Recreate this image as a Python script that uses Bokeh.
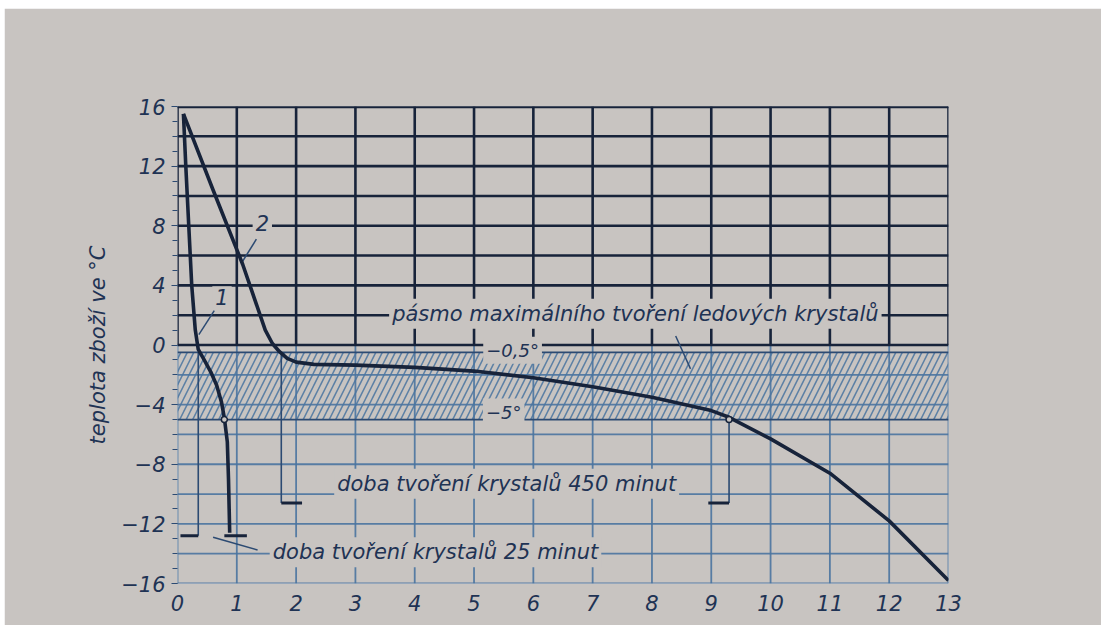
from bokeh.plotting import figure
from bokeh.models import Range1d, FixedTicker, Label
from bokeh.embed import file_html
from bokeh.resources import INLINE

# ---------------- data ----------------
# curve 1: fast freezing (hours, deg C)
c1_x = [0.10, 0.14, 0.19, 0.24, 0.30, 0.35, 0.45, 0.56, 0.66, 0.74, 0.79, 0.84, 0.86, 0.88]
c1_y = [15.5, 12.0, 8.0, 4.0, 1.0, -0.3, -1.0, -1.8, -2.7, -3.8, -4.9, -6.5, -9.0, -12.6]
# curve 2: slow freezing
c2_x = [0.10, 0.60, 1.10, 1.48, 1.60, 1.72, 1.85, 2.00, 2.30, 3.0, 4.0, 5.0, 6.0, 7.0, 8.0, 9.0, 9.3, 10.0, 11.0, 12.0, 13.0]
c2_y = [15.5, 10.4, 5.4, 1.0, 0.1, -0.45, -0.9, -1.15, -1.3, -1.35, -1.5, -1.75, -2.2, -2.8, -3.5, -4.4, -4.85, -6.3, -8.6, -11.8, -15.8]

x_ticks = list(range(0, 14))
y_ticks = [-16, -12, -8, -4, 0, 4, 8, 12, 16]
y_tick_labels = ["\u221216", "\u221212", "\u22128", "\u22124", "0", "4", "8", "12", "16"]
y_minor = list(range(-16, 17))
y_grid = list(range(-16, 17, 2))

band = [-5.0, -0.5]           # zone of maximum ice crystal formation
c1_cross = [0.35, 0.79]       # curve 1 at -0.5 and -5 deg C
c2_cross = [1.75, 9.3]        # curve 2 at -0.5 and -5 deg C
dim1_y = -12.8
dim2_y = -10.6

y_title = "teplota zboží ve °C"
band_text = "pásmo maximálního tvoření ledových krystalů"
dim1_text = "doba tvoření krystalů 25 minut"
dim2_text = "doba tvoření krystalů 450 minut"

# ---------------- styling ----------------
BG = "#c8c4c1"
DARK = "#17233a"
MID = "#2c4a72"
LIGHT = "#4a74a0"
TXT = "#1f3354"
FONT = "DejaVu Sans"

p = figure(width=1097, height=617,
           x_range=Range1d(x_ticks[0], x_ticks[-1]), y_range=Range1d(y_ticks[0], y_ticks[-1]),
           output_backend="svg", toolbar_location=None,
           min_border_left=173, min_border_right=153, min_border_top=98, min_border_bottom=42,
           background_fill_color=BG, border_fill_color=BG, outline_line_color=None)
p.styles = {"margin-top": "8px", "margin-left": "4px"}
p.xgrid.grid_line_color = None
p.ygrid.grid_line_color = None

# grid drawn as segments: darker in the upper part, lighter below
xs_all = x_ticks
p.segment(x0=xs_all, y0=[0] * len(xs_all), x1=xs_all, y1=[y_ticks[-1]] * len(xs_all),
          line_color=DARK, line_width=2.6)
p.segment(x0=xs_all, y0=[y_ticks[0]] * len(xs_all), x1=xs_all, y1=[0] * len(xs_all),
          line_color=LIGHT, line_width=1.8, line_alpha=0.9)
yu = [y for y in y_grid if y >= 0]
yl = [y for y in y_grid if y < 0]
p.segment(x0=[x_ticks[0]] * len(yu), y0=yu, x1=[x_ticks[-1]] * len(yu), y1=yu,
          line_color=DARK, line_width=2.6)
p.segment(x0=[x_ticks[0]] * len(yl), y0=yl, x1=[x_ticks[-1]] * len(yl), y1=yl,
          line_color=LIGHT, line_width=1.8, line_alpha=0.9)
p.segment(x0=[x_ticks[0]], y0=[y_ticks[-1]], x1=[x_ticks[-1]], y1=[y_ticks[-1]],
          line_color=DARK, line_width=3.5)

# hatched band
p.quad(left=[x_ticks[0]], right=[x_ticks[-1]], bottom=[band[0]], top=[band[1]],
       fill_alpha=0, line_alpha=0, hatch_pattern="/", hatch_color=LIGHT,
       hatch_scale=13, hatch_weight=1.6, hatch_alpha=0.85)
p.segment(x0=[x_ticks[0]] * 2, y0=band, x1=[x_ticks[-1]] * 2, y1=band,
          line_color=MID, line_width=1.8)

# dimension lines
p.segment(x0=[c2_cross[0], c2_cross[1], c1_cross[0]],
          y0=[band[1], band[0], band[1]],
          x1=[c2_cross[0], c2_cross[1], c1_cross[0]],
          y1=[dim2_y, dim2_y, dim1_y],
          line_color=MID, line_width=1.6)
p.segment(x0=[c2_cross[0], c2_cross[1] - 0.35, c1_cross[0] - 0.3, c1_cross[1]],
          y0=[dim2_y, dim2_y, dim1_y, dim1_y],
          x1=[c2_cross[0] + 0.35, c2_cross[1], c1_cross[0], c1_cross[1] + 0.38],
          y1=[dim2_y, dim2_y, dim1_y, dim1_y],
          line_color=DARK, line_width=3)
p.segment(x0=[0.6], y0=[dim1_y - 0.1], x1=[1.35], y1=[-13.75], line_color=MID, line_width=1.5)

# leaders to labels
p.segment(x0=[0.62, 1.33, 8.4], y0=[2.3, 7.1, 0.6], x1=[0.36, 1.08, 8.65], y1=[0.7, 5.5, -1.6],
          line_color=MID, line_width=1.5)

# curves
p.line(c1_x, c1_y, line_color=DARK, line_width=3.6, line_join="round")
p.line(c2_x, c2_y, line_color=DARK, line_width=3.6, line_join="round")
p.scatter(x=[c1_cross[1], c2_cross[1]], y=[band[0], band[0]], size=6,
          fill_color=BG, line_color=DARK, line_width=1.5)

# axes
p.xaxis.ticker = FixedTicker(ticks=x_ticks)
p.xaxis.axis_line_color = None
p.xaxis.major_tick_line_color = None
p.xaxis.minor_tick_line_color = None
p.xaxis.major_label_standoff = 5
p.yaxis.ticker = FixedTicker(ticks=y_ticks, minor_ticks=y_minor)
p.yaxis.major_label_overrides = dict(zip(y_ticks, y_tick_labels))
p.yaxis.axis_line_color = None
p.yaxis.major_tick_line_color = MID
p.yaxis.minor_tick_line_color = MID
p.yaxis.major_tick_out = 6
p.yaxis.minor_tick_out = 5
p.yaxis.major_tick_in = 0
p.yaxis.minor_tick_in = 0
p.yaxis.major_label_standoff = 6
p.yaxis.axis_label = y_title
p.yaxis.axis_label_standoff = 8
for ax in (p.xaxis[0], p.yaxis[0]):
    ax.major_label_text_font = FONT
    ax.major_label_text_font_style = "italic"
    ax.major_label_text_font_size = "21px"
    ax.major_label_text_color = TXT
    ax.axis_label_text_font = FONT
    ax.axis_label_text_font_style = "italic"
    ax.axis_label_text_font_size = "21px"
    ax.axis_label_text_color = TXT


def lab(x, y, text, size="21px", fill=True, align="center"):
    kw = dict(x=x, y=y, text=text, text_align=align, text_baseline="middle",
              text_font=FONT, text_font_style="italic", text_font_size=size,
              text_color=TXT)
    if fill:
        kw.update(background_fill_color=BG, padding=3)
    p.add_layout(Label(**kw))


lab(7.72, 2.1, band_text)
lab(5.55, -9.3, dim2_text)
lab(4.35, -13.9, dim1_text)
lab(0.75, 3.2, "1")
lab(1.43, 8.2, "2")
lab(5.65, -0.35, "\u22120,5°", size="18px")
lab(5.5, -4.5, "\u22125°", size="18px")

open("out.html", "w").write(file_html(p, INLINE))
